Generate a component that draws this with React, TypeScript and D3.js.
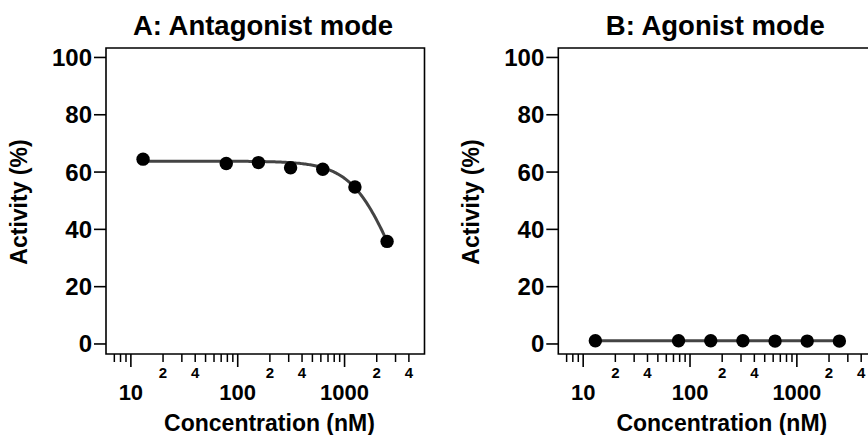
import React from "react";
import * as d3 from "d3";

// ---- data ----
const concentrations = [13, 78.1, 156.3, 312.5, 625, 1250, 2500];
const antagonistActivity = [64.5, 63.0, 63.3, 61.5, 61.0, 54.8, 35.8];
const agonistActivity = [1.1, 1.1, 1.1, 1.1, 1.0, 1.0, 1.0];
const panelTitles = ["A: Antagonist mode", "B: Agonist mode"];
const yTicks = [0, 20, 40, 60, 80, 100];
const xMajorTicks = [10, 100, 1000];
const xMinorMultipliers = [2, 3, 4, 5, 6, 7, 8, 9];
const xMinorLabelled = [2, 4];
// 4-parameter logistic fit constants (top, bottom, IC50, hill)
const antagonistFit = { top: 63.8, bottom: 0, ic50: 2800, hill: 2.2 };
const agonistFit = { top: 1.1, bottom: 1.0, ic50: 1e9, hill: 1 };

const W = 868;
const H = 435;
const FONT = "'Liberation Sans', Arial, Helvetica, sans-serif";

const PLOT_TOP = 48;
const PLOT_BOTTOM = 354;
const PLOT_W = 318.5;
const X_DOMAIN: [number, number] = [5.85, 5600];
const Y_DOMAIN: [number, number] = [-3.5, 103.3];
const MINOR_MIN = 7;
const MINOR_MAX = 4000;

function Panel({ left, title, values, fit }: { left: number; title: string; values: number[]; fit: typeof antagonistFit }) {
  const x = d3.scaleLog().domain(X_DOMAIN).range([left, left + PLOT_W]);
  const y = d3.scaleLinear().domain(Y_DOMAIN).range([PLOT_BOTTOM, PLOT_TOP]);
  const right = left + PLOT_W;

  const f = (c: number) => fit.bottom + (fit.top - fit.bottom) / (1 + Math.pow(c / fit.ic50, fit.hill));
  const cmin = concentrations[0];
  const cmax = concentrations[concentrations.length - 1];
  const curvePts: [number, number][] = d3
    .range(0, 201)
    .map((i) => Math.pow(10, Math.log10(cmin) + (i / 200) * (Math.log10(cmax) - Math.log10(cmin))))
    .map((c) => [x(c), y(f(c))]);
  const line = d3.line().curve(d3.curveLinear)(curvePts) || "";

  const minor: number[] = [];
  [1, 10, 100, 1000].forEach((dec) =>
    xMinorMultipliers.forEach((m) => {
      const v = m * dec;
      if (v >= MINOR_MIN && v <= MINOR_MAX) minor.push(v);
    })
  );

  return (
    <g>
      <text x={left + 157} y={35} textAnchor="middle" fontFamily={FONT} fontWeight="bold" fontSize={27.5} fill="#000">
        {title}
      </text>
      {/* frame */}
      <path
        d={`M${left},${PLOT_BOTTOM}V${PLOT_TOP}H${right}V${PLOT_BOTTOM}Z`}
        fill="none"
        stroke="#000"
        strokeWidth={1.6}
      />
      {/* y axis */}
      {yTicks.map((t) => (
        <g key={t}>
          <line x1={left - 12} x2={left} y1={y(t)} y2={y(t)} stroke="#000" strokeWidth={1.6} />
          <text x={left - 14} y={y(t) + 8.5} textAnchor="end" fontFamily={FONT} fontWeight="bold" fontSize={24}>
            {t}
          </text>
        </g>
      ))}
      <text
        transform={`translate(${left - 79},${(PLOT_TOP + PLOT_BOTTOM) / 2 + 1}) rotate(-90)`}
        textAnchor="middle"
        fontFamily={FONT}
        fontWeight="bold"
        fontSize={23}
      >
        Activity (%)
      </text>
      {/* x axis */}
      {minor.map((v) => {
        const m = Math.round(v / Math.pow(10, Math.floor(Math.log10(v) + 1e-9)));
        return (
          <g key={v}>
            <line x1={x(v)} x2={x(v)} y1={PLOT_BOTTOM} y2={PLOT_BOTTOM + 8} stroke="#000" strokeWidth={1.5} />
            {xMinorLabelled.includes(m) && (
              <text x={x(v)} y={PLOT_BOTTOM + 24} textAnchor="middle" fontFamily={FONT} fontWeight="bold" fontSize={15}>
                {m}
              </text>
            )}
          </g>
        );
      })}
      {xMajorTicks.map((v) => (
        <g key={v}>
          <line x1={x(v)} x2={x(v)} y1={PLOT_BOTTOM} y2={PLOT_BOTTOM + 13} stroke="#000" strokeWidth={1.6} />
          <text x={x(v)} y={PLOT_BOTTOM + 46} textAnchor="middle" fontFamily={FONT} fontWeight="bold" fontSize={22}>
            {v}
          </text>
        </g>
      ))}
      <text x={left + 163.5} y={431} textAnchor="middle" fontFamily={FONT} fontWeight="bold" fontSize={23}>
        Concentration (nM)
      </text>
      {/* fit curve */}
      <path d={line} fill="none" stroke="#444" strokeWidth={3} />
      {/* points */}
      {concentrations.map((c, i) => (
        <circle key={c} cx={x(c)} cy={y(values[i])} r={6.7} fill="#000" />
      ))}
    </g>
  );
}

export default function App() {
  return (
    <svg
      width={W}
      height={H}
      viewBox={`0 0 ${W} ${H}`}
      style={{ position: "absolute", left: 0, top: 0, background: "#fff", overflow: "hidden" }}
    >
      <rect width={W} height={H} fill="#fff" />
      <Panel left={106} title={panelTitles[0]} values={antagonistActivity} fit={antagonistFit} />
      <Panel left={558.3} title={panelTitles[1]} values={agonistActivity} fit={agonistFit} />
    </svg>
  );
}
